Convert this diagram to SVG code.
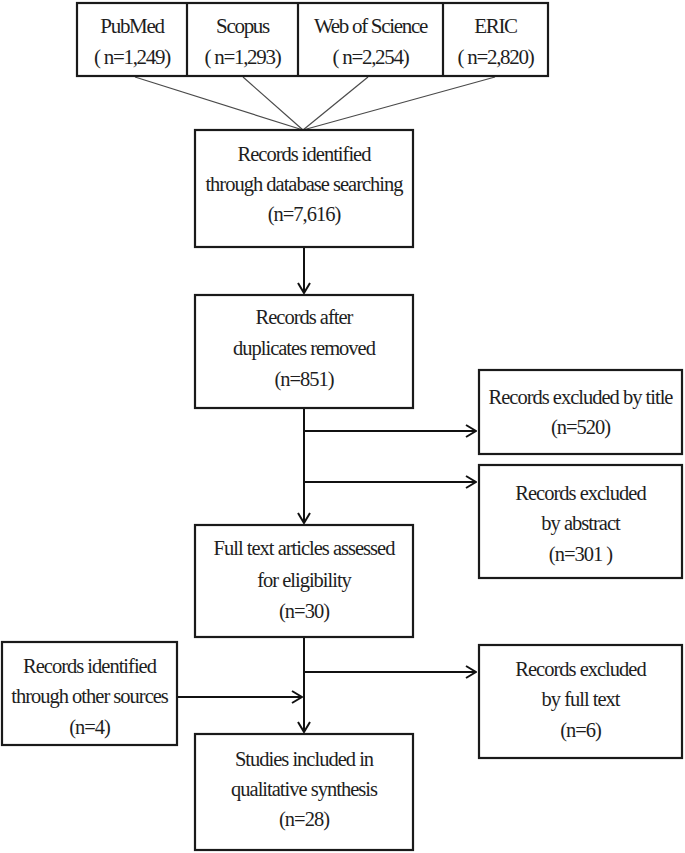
<svg xmlns="http://www.w3.org/2000/svg" width="685" height="853" viewBox="0 0 685 853">
<style>
  .box { fill: #ffffff; stroke: #1a1a1a; stroke-width: 2.2; }
  .t { font-family: "Liberation Serif", "Times New Roman", serif; font-size: 20.5px; fill: #1e1e1e; text-anchor: middle; letter-spacing: -1px; }
  .tt { font-size: 21px; letter-spacing: -1.3px; }
  .c { fill: none; stroke: #111111; stroke-width: 2; }
  .fan { fill: none; stroke: #4a4a4a; stroke-width: 1.2; }
</style>
<defs>
  <marker id="arr" viewBox="0 0 12 14" markerWidth="12" markerHeight="14" refX="11" refY="7" orient="auto" markerUnits="userSpaceOnUse">
    <path d="M1,1 L11,7 L1,13" fill="none" stroke="#111111" stroke-width="2"/>
  </marker>
</defs>
<rect width="685" height="853" fill="#ffffff"/>

<g id="connectors">
  <path class="fan" d="M135,77 L303,130"/>
  <path class="fan" d="M243,77 L303,130"/>
  <path class="fan" d="M368,77 L303,130"/>
  <path class="fan" d="M495,77 L303,130"/>
  <path class="c" d="M304,247 L304,293" marker-end="url(#arr)"/>
  <path class="c" d="M304,408 L304,523" marker-end="url(#arr)"/>
  <path class="c" d="M304,431 L476,431" marker-end="url(#arr)"/>
  <path class="c" d="M304,482 L476,482" marker-end="url(#arr)"/>
  <path class="c" d="M304,637 L304,732" marker-end="url(#arr)"/>
  <path class="c" d="M304,672 L476,672" marker-end="url(#arr)"/>
  <path class="c" d="M177,697 L302,697" marker-end="url(#arr)"/>
</g>

<g id="databases">
  <rect class="box" x="77" y="3" width="471" height="73"/>
  <path d="M187,3 L187,76 M298,3 L298,76 M443,3 L443,76" stroke="#1a1a1a" stroke-width="2.2"/>
  <g id="pubmed">
    <text class="t tt" x="132" y="33">PubMed</text>
    <text class="t tt" x="132" y="64">( n=1,249)</text>
  </g>
  <g id="scopus">
    <text class="t tt" x="242.5" y="33">Scopus</text>
    <text class="t tt" x="242.5" y="64">( n=1,293)</text>
  </g>
  <g id="wos">
    <text class="t tt" x="370.5" y="33">Web of Science</text>
    <text class="t tt" x="370.5" y="64">( n=2,254)</text>
  </g>
  <g id="eric">
    <text class="t tt" x="495.5" y="33">ERIC</text>
    <text class="t tt" x="495.5" y="64">( n=2,820)</text>
  </g>
</g>

<g id="identified">
  <rect class="box" x="195" y="130" width="218" height="117"/>
  <text class="t" x="304" y="161">Records identified</text>
  <text class="t" x="304" y="191">through  database searching</text>
  <text class="t" x="304" y="221">(n=7,616)</text>
</g>

<g id="duplicates">
  <rect class="box" x="195" y="295" width="218" height="113"/>
  <text class="t" x="304" y="324">Records after</text>
  <text class="t" x="304" y="355">duplicates removed</text>
  <text class="t" x="304" y="386">(n=851)</text>
</g>

<g id="excl-title">
  <rect class="box" x="479" y="370" width="203" height="84"/>
  <text class="t" x="580.5" y="404">Records excluded by title</text>
  <text class="t" x="580.5" y="434">(n=520)</text>
</g>

<g id="excl-abstract">
  <rect class="box" x="479" y="465" width="203" height="113"/>
  <text class="t" x="580.5" y="500">Records excluded</text>
  <text class="t" x="580.5" y="530">by abstract</text>
  <text class="t" x="580.5" y="561">(n=301 )</text>
</g>

<g id="fulltext">
  <rect class="box" x="195" y="525" width="218" height="112"/>
  <text class="t" x="304" y="555">Full text articles  assessed</text>
  <text class="t" x="304" y="587">for eligibility</text>
  <text class="t" x="304" y="618">(n=30)</text>
</g>

<g id="other">
  <rect class="box" x="2" y="642" width="175" height="103"/>
  <text class="t" x="89.5" y="673">Records identified</text>
  <text class="t" x="89.5" y="703">through  other sources</text>
  <text class="t" x="89.5" y="734">(n=4)</text>
</g>

<g id="excl-fulltext">
  <rect class="box" x="479" y="645" width="203" height="113"/>
  <text class="t" x="580.5" y="676">Records excluded</text>
  <text class="t" x="580.5" y="706">by full  text</text>
  <text class="t" x="580.5" y="737">(n=6)</text>
</g>

<g id="included">
  <rect class="box" x="195" y="734" width="218" height="116"/>
  <text class="t" x="304" y="766">Studies included in</text>
  <text class="t" x="304" y="796">qualitative  synthesis</text>
  <text class="t" x="304" y="826">(n=28)</text>
</g>
</svg>
